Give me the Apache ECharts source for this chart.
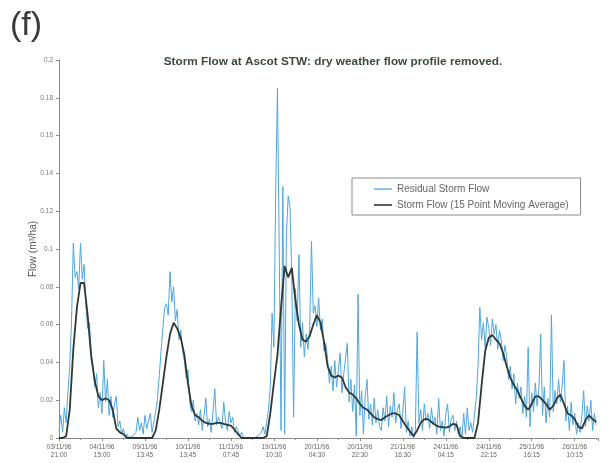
<!DOCTYPE html>
<html>
<head>
<meta charset="utf-8">
<script src="https://cdn.jsdelivr.net/npm/echarts@6/dist/echarts.min.js"></script>
<style>
html,body{margin:0;padding:0;background:#fff;}
#chart{width:616px;height:463px;}
</style>
</head>
<body>
<div id="chart"></div>
<script>
// x tick labels (one every 24 samples of 45 min = 18 h)
const tickLabels = [
  '03/11/96\n21:00','04/11/96\n15:00','09/11/96\n13:45','10/11/96\n13:45',
  '11/11/96\n07:45','19/11/96\n10:30','20/11/96\n04:30','20/11/96\n22:30',
  '21/11/96\n16:30','24/11/96\n04:15','24/11/96\n22:15','25/11/96\n16:15',
  '26/11/96\n10:15'
];
const samplesPerLabel = 24;
const maStep = 2; // moving-average values are read every 2 samples

// Residual Storm Flow, one value per sample
const residual = [
  0.004,0.012,0.003,0.016,0.008,0.025,0.038,0.062,0.103,0.085,
  0.088,0.079,0.103,0.084,0.092,0.07,0.058,0.061,0.045,0.038,
  0.027,0.034,0.016,0.024,0.013,0.041,0.019,0.031,0.012,0.022,
  0.011,0.018,0.022,0.006,0.009,0.002,0.005,0,0.002,0,
  0,0.001,0,0.003,0.011,0.004,0.008,0.002,0.012,0.005,
  0.006,0.013,0.003,0.009,0.014,0.021,0.033,0.046,0.058,0.069,
  0.071,0.065,0.088,0.072,0.08,0.062,0.068,0.052,0.057,0.046,
  0.041,0.032,0.036,0.019,0.014,0.02,0.009,0.013,0.007,0.015,
  0.004,0.012,0.021,0.006,0.01,0.003,0.014,0.026,0.007,0.011,
  0.012,0.005,0.019,0.009,0.004,0.014,0.008,0.011,0.003,0.006,
  0.004,0.001,0.003,0,0,0,0,0,0,0,
  0,0.001,0,0.003,0.006,0.002,0.009,0.015,0.027,0.066,
  0.048,0.13,0.185,0.098,0.004,0.133,0.002,0.108,0.128,0.122,
  0.085,0.011,0.079,0.062,0.097,0.048,0.061,0.043,0.055,0.047,
  0.058,0.104,0.066,0.07,0.059,0.074,0.057,0.063,0.046,0.05,
  0.042,0.029,0.038,0.025,0.041,0.027,0.036,0.045,0.024,0.034,
  0.033,0.05,0.019,0.031,0.014,0.028,0.001,0.076,0.012,0.025,
  0.002,0.022,0.031,0.01,0.018,0.007,0.021,0.008,0.015,0.006,
  0.004,0.016,0.009,0.022,0.006,0.017,0.011,0.024,0.008,0.015,
  0.018,0.005,0.014,0.027,0.003,0.009,0.001,0.006,0,0.004,
  0.056,0.008,0.015,0.004,0.018,0.009,0.013,0.005,0.016,0.007,
  0.011,0.002,0.021,0.004,0.009,0.001,0.013,0.018,0.003,0.01,
  0.012,0.004,0.009,0.002,0.006,0,0.013,0.002,0.016,0.004,
  0.008,0.003,0.012,0.021,0.038,0.069,0.052,0.061,0.048,0.064,
  0.058,0.049,0.063,0.055,0.06,0.047,0.057,0.052,0.041,0.049,
  0.043,0.031,0.038,0.026,0.034,0.018,0.029,0.021,0.027,0.013,
  0.022,0.011,0.048,0.006,0.024,0.014,0.029,0.017,0.026,0.055,
  0.012,0.027,0.008,0.021,0.011,0.065,0.014,0.025,0.018,0.031,
  0.019,0.028,0.041,0.009,0.017,0.004,0.019,0.007,0.013,0.002,
  0.008,0.003,0.012,0.025,0.006,0.017,0.009,0.02,0.004,0.013,0.007
];

// Storm Flow (15 Point Moving Average), one value every maStep samples
const movingAvg = [
  0,0,0.001,0.015,0.047,0.069,0.082,0.082,0.065,0.043,
  0.030,0.022,0.020,0.021,0.020,0.015,0.005,0.003,0.002,0,
  0,0,0,0,0,0,0,0.004,0.015,0.029,
  0.043,0.055,0.061,0.058,0.053,0.044,0.029,0.017,0.012,0.011,
  0.009,0.008,0.0075,0.0075,0.008,0.008,0.0075,0.007,0.0065,0.0045,
  0.002,0,0,0,0,0,0,0,0.001,0.013,
  0.029,0.044,0.069,0.091,0.085,0.090,0.073,0.060,0.052,0.051,
  0.054,0.060,0.065,0.061,0.051,0.038,0.033,0.032,0.033,0.032,
  0.027,0.024,0.023,0.021,0.018,0.016,0.015,0.013,0.011,0.010,
  0.0095,0.011,0.012,0.013,0.013,0.012,0.009,0.006,0.0035,0.001,
  0.004,0.008,0.010,0.010,0.0085,0.007,0.006,0.0058,0.0055,0.006,
  0.0075,0.007,0.001,0,0,0,0,0.008,0.028,0.046,
  0.053,0.0545,0.052,0.050,0.045,0.038,0.032,0.028,0.025,0.021,
  0.017,0.015,0.018,0.022,0.022,0.020,0.018,0.015,0.017,0.021,
  0.023,0.018,0.013,0.012,0.010,0.006,0.005,0.0095,0.012,0.010,0.0085
];

const yTickStep = 0.02;
const yMax = 0.2;
const FONT = 'Liberation Sans, Arial, sans-serif';

const chart = echarts.init(document.getElementById('chart'), null, {renderer: 'canvas'});
chart.setOption({
  animation: false,
  backgroundColor: '#ffffff',
  title: [
    {
      text: '(f)', left: 5, top: 4,
      textStyle: {fontFamily: FONT, fontSize: 34, fontWeight: 'normal', color: '#3a3a3a'}
    },
    {
      text: 'Storm Flow at Ascot STW: dry weather flow profile removed.',
      left: 328, top: 51, textAlign: 'center',
      textStyle: {fontFamily: FONT, fontSize: 11.8, fontWeight: 'bold', color: '#3b4a3c'}
    }
  ],
  legend: {
    orient: 'vertical',
    left: 352, top: 178,
    padding: [5, 12, 4, 22],
    icon: 'rect',
    itemWidth: 18, itemHeight: 1.6, itemGap: 4,
    borderColor: '#8a8a8a', borderWidth: 1,
    backgroundColor: '#fff',
    textStyle: {fontFamily: FONT, fontSize: 10, lineHeight: 12, color: '#666'},
    data: ['Residual Storm Flow', 'Storm Flow (15 Point Moving Average)']
  },
  grid: {left: 59, right: 18, top: 60, bottom: 25, containLabel: false},
  xAxis: {
    type: 'value',
    min: 0, max: 301, interval: samplesPerLabel,
    axisLine: {show: true, lineStyle: {color: '#8a8a8a', width: 1}},
    axisTick: {show: true, length: 3, lineStyle: {color: '#8a8a8a'}},
    minorTick: {show: true, splitNumber: 2, length: 2, lineStyle: {color: '#9a9a9a'}},
    splitLine: {show: false},
    axisLabel: {
      margin: 5, fontSize: 6.5, lineHeight: 8, color: '#666',
      fontFamily: FONT,
      showMaxLabel: false,
      formatter: function (v) {
        const k = v / samplesPerLabel;
        return (Number.isInteger(k) && tickLabels[k]) ? tickLabels[k] : '';
      }
    }
  },
  yAxis: {
    type: 'value',
    min: 0, max: yMax, interval: yTickStep,
    name: 'Flow (m³/ha)',
    nameLocation: 'middle', nameGap: 21, nameRotate: 90,
    nameMoveOverlap: false,
    nameTextStyle: {fontFamily: FONT, fontSize: 10, color: '#555'},
    axisLine: {show: true, lineStyle: {color: '#8a8a8a', width: 1}},
    axisTick: {show: true, length: 3, lineStyle: {color: '#8a8a8a'}},
    splitLine: {show: false},
    axisLabel: {
      margin: 6, fontSize: 6.5, color: '#777',
      fontFamily: FONT,
      formatter: function (v) { return String(Math.round(v * 100) / 100); }
    }
  },
  series: [
    {
      name: 'Residual Storm Flow',
      type: 'line',
      symbol: 'none',
      data: residual.map((v, i) => [i, v]),
      lineStyle: {color: '#4ea6de', width: 1},
      itemStyle: {color: '#6db6e6'},
      z: 2
    },
    {
      name: 'Storm Flow (15 Point Moving Average)',
      type: 'line',
      symbol: 'none',
      data: movingAvg.map((v, k) => [k * maStep, v]),
      lineStyle: {color: '#2e3833', width: 1.8},
      itemStyle: {color: '#2e3833'},
      z: 3
    }
  ]
});
</script>
</body>
</html>
